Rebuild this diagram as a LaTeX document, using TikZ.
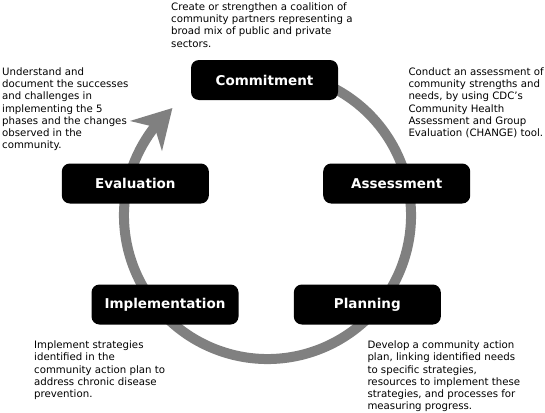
\documentclass[tikz,border=0pt]{standalone}
\usepackage{fontspec}
\setmainfont{DejaVu Sans}
\usepackage{tikz}
\usetikzlibrary{arrows.meta,bending}

\definecolor{cyclegray}{RGB}{128,128,128}
\tikzset{
  phase/.style={fill=black, text=white, rounded corners=8pt, minimum width=147pt,
    minimum height=40pt, inner sep=0pt, font=\fontsize{13.5}{16}\selectfont\bfseries},
  note/.style={anchor=north west, align=left, inner sep=0pt,
    font=\fontsize{10.2}{12.3}\selectfont}
}

\begin{document}
\begin{tikzpicture}[x=1pt,y=1pt]
\useasboundingbox (0,0) rectangle (545,-412);
\coordinate (c) at (267.5,-215.5);

% the cycle
\draw[cyclegray, line width=10pt, -{Stealth[length=38pt,width=43pt,inset=12pt]}]
  ([shift={(70:143.5pt)}]c) arc (70:-228.5:143.5pt);

\node[phase] (commit) at (264.5,-80) {Commitment};
\node[phase] (assess) at (396.7,-183.5) {Assessment};
\node[phase] (plan) at (367.3,-304.5) {Planning};
\node[phase] (impl) at (165,-304.5) {Implementation};
\node[phase] (eval) at (135.3,-183.5) {Evaluation};

% descriptions
\node[note] (commitnote) at (171,-2.2) {Create or strengthen a coalition of\\community partners representing a\\broad mix of public and private\\sectors.};
\node[note] (assessnote) at (408.3,-67.2) {Conduct an assessment of\\community strengths and\\needs, by using CDC’s\\Community Health\\Assessment and Group\\Evaluation (CHANGE) tool.};
\node[note] (plannote) at (367.3,-340.5) {Develop a community action\\plan, linking identified needs\\to specific strategies,\\resources to implement these\\strategies, and processes for\\measuring progress.};
\node[note] (implnote) at (34,-340.5) {Implement strategies\\identified in the\\community action plan to\\address chronic disease\\prevention.};
\node[note] (evalnote) at (2,-67.2) {Understand and\\document the successes\\and challenges in\\implementing the 5\\phases and the changes\\observed in the\\community.};
\end{tikzpicture}
\end{document}
